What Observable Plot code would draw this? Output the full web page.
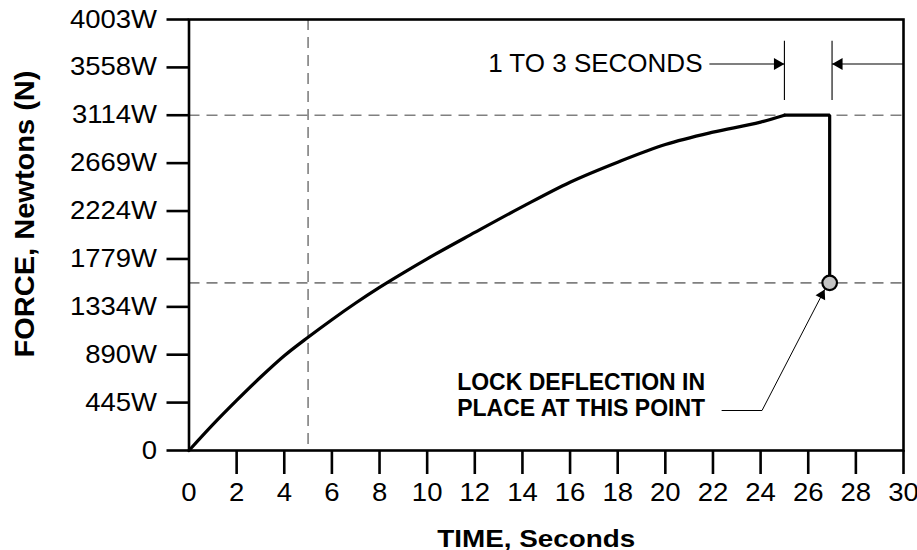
<!DOCTYPE html>
<html>
<head>
<meta charset="utf-8">
<script src="https://cdn.jsdelivr.net/npm/d3@7"></script>
<script src="https://cdn.jsdelivr.net/npm/@observablehq/plot@0.6"></script>
<style>
  html, body { margin: 0; padding: 0; background: #fff; }
  #chart { width: 917px; height: 550px; }
</style>
</head>
<body>
<div id="chart"></div>
<script>
// ---- data ----
const timeSec  = [0, 1, 2, 3, 4, 5, 6, 7, 8, 9, 10, 12, 14, 16, 18, 20, 22, 24, 25, 26.9, 26.9];
const forceN   = [0, 240, 465, 680, 880, 1052, 1215, 1370, 1515, 1650, 1780, 2025, 2265, 2492, 2678, 2842, 2957, 3050, 3114, 3114, 1557];
const riseEnd = 18; // index of the point where the rising curve meets the plateau

const xTicks = [0, 2, 4, 6, 8, 10, 12, 14, 16, 18, 20, 22, 24, 26, 28, 30];
const yTicks = [0, 445, 890, 1334, 1779, 2224, 2669, 3114, 3558, 4003];

const xLabel = "TIME, Seconds";
const yLabel = "FORCE, Newtons (N)";

// reference (dashed) lines
const refTime  = [5];
const refForce = [3114, 1557];

// lock point
const lockTime  = [26.9];
const lockForce = [1557];

// "1 TO 3 SECONDS" bracket
const bracketTimes = [25, 27];
const bracketForceLow = 3251, bracketForceHigh = 3802;
const bracketForce = 3590;
const bracketText = "1 TO 3 SECONDS";
const bracketTextTime = 21.56;
const arrowStart = [21.85, 30];
const arrowEnd   = [25, 27];

// "LOCK DEFLECTION" note
const noteLines = ["LOCK DEFLECTION IN", "PLACE AT THIS POINT"];
const noteTime = 11.26;
const noteForce = [632, 390];
const leaderTime  = [22.38, 24.06, 26.69];
const leaderForce = [371.5, 371.5, 1495];

// ---- build ----
const font = "'Liberation Sans', Arial, Helvetica, sans-serif";
const curve = timeSec.map((t, i) => ({t, f: forceN[i]}));
const rise = curve.slice(0, riseEnd + 1);
const plateau = curve.slice(riseEnd);
const arrows = arrowStart.map((s, i) => ({x1: s, x2: arrowEnd[i], y: bracketForce}));
const leader = leaderTime.map((t, i) => ({t, f: leaderForce[i]}));
const headR = 4.5;
const headLen = 2 * Math.sqrt(headR * headR * Math.PI / (Math.sqrt(3) * 3));
const leadAng = -62.6 * Math.PI / 180;
const headR2 = 4;
const headLen2 = 2 * Math.sqrt(headR2 * headR2 * Math.PI / (Math.sqrt(3) * 3));

const chart = Plot.plot({
  width: 917,
  height: 550,
  marginLeft: 188.5,
  marginRight: 14,
  marginTop: 19,
  marginBottom: 100,
  style: {fontFamily: font, fontSize: "25px", background: "#fff", color: "#000", overflow: "visible"},
  x: {domain: [0, 30]},
  y: {domain: [0, 4003]},
  marks: [
    // dashed reference lines
    Plot.ruleX(refTime, {stroke: "#808080", strokeWidth: 1.6, strokeDasharray: "11,7"}),
    Plot.ruleY(refForce, {stroke: "#808080", strokeWidth: 1.6, strokeDasharray: "11,7"}),
    // axes
    Plot.axisX({ticks: xTicks.filter(d => d > 0), tickSize: 24, strokeWidth: 2.6, tickFormat: () => "", label: null}),
    Plot.axisX({ticks: xTicks, tickSize: 0, tickPadding: 33, fontSize: 25, label: null}),
    Plot.axisY({ticks: yTicks, tickSize: 22, tickPadding: 10, strokeWidth: 2.6, fontSize: 25,
                tickFormat: d => d === 0 ? "0" : d + "W", label: null}),
    Plot.frame({stroke: "#000", strokeWidth: 2.6}),
    // curve
    Plot.line(rise, {x: "t", y: "f", curve: "monotone-x", stroke: "#000", strokeWidth: 3.2}),
    Plot.line(plateau, {x: "t", y: "f", stroke: "#000", strokeWidth: 3.2, strokeLinejoin: "miter"}),
    Plot.dot(lockTime.map((t, i) => ({t, f: lockForce[i]})), {x: "t", y: "f", r: 7.3, fill: "#c4c4c4", stroke: "#000", strokeWidth: 2.2}),
    // bracket annotation
    Plot.ruleX(bracketTimes, {y1: bracketForceLow, y2: bracketForceHigh, stroke: "#000", strokeWidth: 1.1}),
    Plot.link(arrows, {x1: "x1", x2: "x2", y1: "y", y2: "y", stroke: "#000", strokeWidth: 1.1}),
    Plot.dot([arrowEnd[0]], {x: d => d, y: () => bracketForce, symbol: "triangle", r: headR, rotate: 90, dx: -headLen, fill: "#000", stroke: "none"}),
    Plot.dot([arrowEnd[1]], {x: d => d, y: () => bracketForce, symbol: "triangle", r: headR, rotate: -90, dx: headLen, fill: "#000", stroke: "none"}),
    Plot.text([bracketText], {x: () => bracketTextTime, y: () => bracketForce, textAnchor: "end", fontSize: 26, fill: "#000"}),
    // lock note
    Plot.text(noteLines, {x: () => noteTime, y: (d, i) => noteForce[i], textAnchor: "start", fontSize: 23, fontWeight: "bold", fill: "#000"}),
    Plot.line(leader, {x: "t", y: "f", stroke: "#000", strokeWidth: 1}),
    Plot.dot([leader[leader.length - 1]], {x: "t", y: "f", symbol: "triangle", r: headR2, rotate: 90 + leadAng * 180 / Math.PI,
      dx: -headLen2 * Math.cos(leadAng), dy: -headLen2 * Math.sin(leadAng), fill: "#000", stroke: "none"}),
    // axis titles
    Plot.text([xLabel], {frameAnchor: "bottom", lineAnchor: "middle", textAnchor: "middle", dx: -10, dy: 88.5, fontSize: 24, fontWeight: "bold", fill: "#000"}),
    Plot.text([yLabel], {frameAnchor: "left", lineAnchor: "middle", textAnchor: "middle", rotate: -90, dx: -163.5, dy: -21, fontSize: 27, fontWeight: "bold", fill: "#000"})
  ]
});
document.getElementById("chart").appendChild(chart);

// widen lettering to match the reference proportions
function stretch(t, target) {
  t.setAttribute("textLength", target.toFixed(1));
  t.setAttribute("lengthAdjust", "spacingAndGlyphs");
}
chart.querySelectorAll('g[aria-label="x-axis tick label"] text, g[aria-label="y-axis tick label"] text').forEach(t => {
  const w = t.getComputedTextLength();
  if (w > 0) stretch(t, w * 1.1);
});
chart.querySelectorAll("text").forEach(t => {
  if (t.textContent === xLabel) stretch(t, 198);
  if (t.textContent === yLabel) stretch(t, 287);
});
</script>
</body>
</html>
